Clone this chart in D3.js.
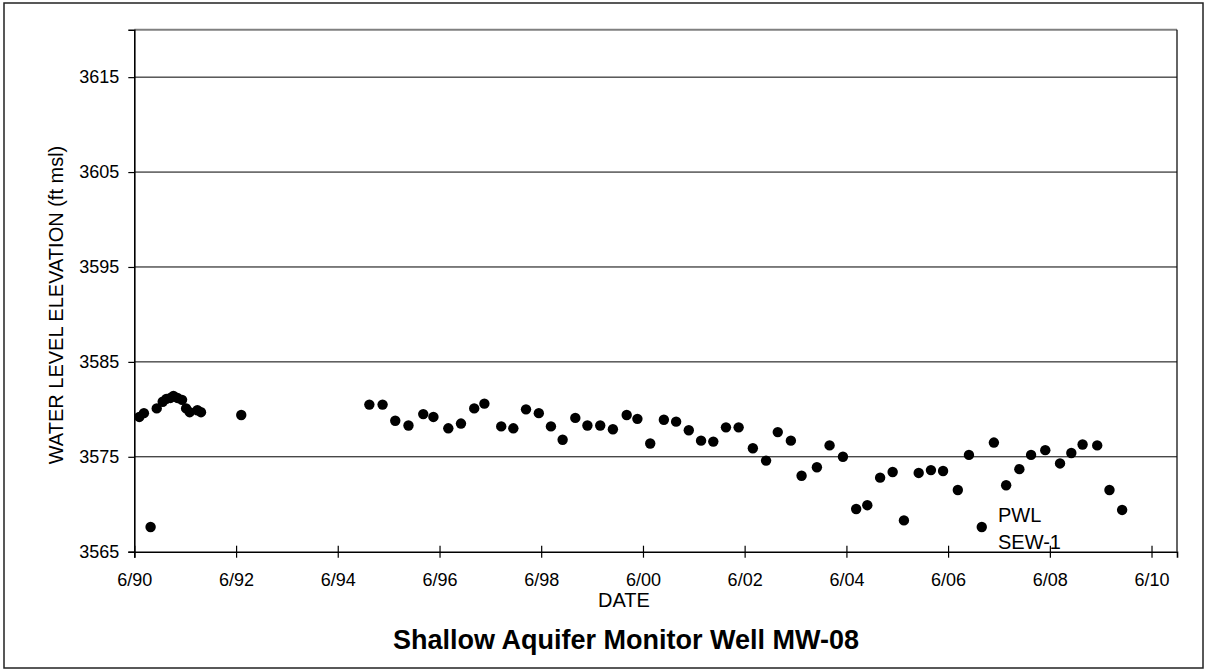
<!DOCTYPE html>
<html>
<head>
<meta charset="utf-8">
<script src="https://cdn.jsdelivr.net/npm/d3@7"></script>
<style>
  html, body { margin: 0; padding: 0; background: #fff; }
  svg { display: block; font-family: Arial, "Liberation Sans", sans-serif; }
</style>
</head>
<body>
<svg id="chart" width="1206" height="671"></svg>
<script>
// ---- data ----
const sampleDates = [
  "1990-07-07","1990-08-09","1990-09-26","1990-11-09","1990-12-22","1991-01-17","1991-02-15",
  "1991-03-09","1991-04-07","1991-05-10","1991-06-08","1991-07-04","1991-08-28","1991-09-23",
  "1992-07-08",
  "1995-01-14","1995-04-19","1995-07-19","1995-10-22","1996-02-05","1996-04-18","1996-08-03",
  "1996-11-02","1997-02-05","1997-04-19","1997-08-18","1997-11-13","1998-02-12","1998-05-15",
  "1998-08-10","1998-11-02","1999-02-01","1999-04-29","1999-07-30","1999-10-29","2000-02-05",
  "2000-04-22","2000-07-23","2000-10-29","2001-01-25","2001-04-26","2001-07-23","2001-10-19",
  "2002-01-18","2002-04-19","2002-07-30","2002-11-02","2003-01-25","2003-04-29","2003-07-15",
  "2003-11-02","2004-02-01","2004-05-07","2004-08-10","2004-10-29","2005-01-29","2005-04-29",
  "2005-07-19","2005-11-02","2006-01-29","2006-04-26","2006-08-10","2006-10-29","2007-01-29",
  "2007-04-26","2007-07-23","2007-10-26","2008-01-18","2008-04-29","2008-08-13","2008-11-02",
  "2009-01-22","2009-05-07","2009-08-03","2009-11-02"
];
const waterLevels = [
  3579.2, 3579.6, 3567.6, 3580.1, 3580.8, 3581.1, 3581.2,
  3581.4, 3581.2, 3581.0, 3580.1, 3579.7, 3579.9, 3579.7,
  3579.4,
  3580.5, 3580.5, 3578.8, 3578.3, 3579.5, 3579.2, 3578.0,
  3578.5, 3580.1, 3580.6, 3578.2, 3578.0, 3580.0, 3579.6,
  3578.2, 3576.8, 3579.1, 3578.3, 3578.3, 3577.9, 3579.4,
  3579.0, 3576.4, 3578.9, 3578.7, 3577.8, 3576.7, 3576.6,
  3578.1, 3578.1, 3575.9, 3574.6, 3577.6, 3576.7, 3573.0,
  3573.9, 3576.2, 3575.0, 3569.5, 3569.9, 3572.8, 3573.4,
  3568.3, 3573.3, 3573.6, 3573.5, 3571.5, 3575.2, 3567.6,
  3576.5, 3572.0, 3573.7, 3575.2, 3575.7, 3574.3, 3575.4,
  3576.3, 3576.2, 3571.5, 3569.4
];
const xTickDates = ["1990-06-01","1992-06-01","1994-06-01","1996-06-01","1998-06-01","2000-06-01",
                    "2002-06-01","2004-06-01","2006-06-01","2008-06-01","2010-06-01"];
const xTickLabels = ["6/90","6/92","6/94","6/96","6/98","6/00","6/02","6/04","6/06","6/08","6/10"];
const yTicks = [3565, 3575, 3585, 3595, 3605, 3615];
const xDomain = ["1990-06-01", "2010-12-01"];
const yDomain = [3565, 3620];
const annotationLines = ["PWL", "SEW-1"];
const chartTitle = "Shallow Aquifer Monitor Well MW-08";
const xTitle = "DATE";
const yTitle = "WATER LEVEL ELEVATION (ft msl)";

(function () {
// ---- layout ----
const parse = d3.timeParse("%Y-%m-%d");
const svg = d3.select("#chart");
const pL = 134.3, pR = 1177, pT = 29.7, pB = 551.7;

const x = d3.scaleTime().domain(xDomain.map(parse)).range([pL, pR]);
const y = d3.scaleLinear().domain(yDomain).range([pB, pT]);

// outer frame
svg.append("rect").attr("x", 4).attr("y", 3).attr("width", 1199).attr("height", 665)
  .attr("fill", "none").attr("stroke", "#222").attr("stroke-width", 1.5);

// gridlines
svg.append("g").selectAll("line").data(yTicks.filter(v => v !== yDomain[0])).join("line")
  .attr("x1", pL).attr("x2", pR)
  .attr("y1", d => y(d)).attr("y2", d => y(d))
  .attr("stroke", "#000").attr("stroke-width", 1);

// plot area border top (gray) and right (black)
svg.append("line").attr("x1", pL).attr("x2", pR).attr("y1", pT).attr("y2", pT)
  .attr("stroke", "#808080").attr("stroke-width", 2);
svg.append("line").attr("x1", pR).attr("x2", pR).attr("y1", pT).attr("y2", pB)
  .attr("stroke", "#111").attr("stroke-width", 1.3);

// y axis
const yAxis = svg.append("g").attr("transform", `translate(${pL},0)`)
  .call(d3.axisLeft(y).tickValues(yTicks).tickSize(6).tickPadding(9).tickFormat(d3.format("d")));
yAxis.select(".domain").attr("stroke", "#000").attr("stroke-width", 1.6);
yAxis.selectAll(".tick line").attr("stroke", "#000").attr("stroke-width", 1.2);
yAxis.selectAll("text").attr("font-size", 18).attr("fill", "#000")
  .attr("font-family", "Arial, 'Liberation Sans', sans-serif");

// x axis
const xAxis = svg.append("g").attr("transform", `translate(0,${pB})`)
  .call(d3.axisBottom(x).tickValues(xTickDates.map(parse)).tickSize(6).tickPadding(16)
        .tickFormat((d, i) => xTickLabels[i]));
xAxis.select(".domain").attr("stroke", "#000").attr("stroke-width", 1.6);
xAxis.selectAll(".tick line").attr("y1", -6).attr("y2", 6).attr("stroke", "#000").attr("stroke-width", 1.2);
xAxis.selectAll("text").attr("font-size", 18).attr("fill", "#000")
  .attr("font-family", "Arial, 'Liberation Sans', sans-serif");

// points
svg.append("g").selectAll("circle").data(sampleDates.map((d, i) => ({ d: parse(d), v: waterLevels[i] })))
  .join("circle")
  .attr("cx", p => x(p.d)).attr("cy", p => y(p.v)).attr("r", 5.2).attr("fill", "#000");

// annotation
const ann = svg.append("text").attr("x", 998).attr("y", 522).attr("font-size", 20).attr("fill", "#000");
annotationLines.forEach((t, i) => ann.append("tspan").attr("x", 998).attr("dy", i === 0 ? 0 : 26.6).text(t));

// axis titles
svg.append("text").attr("x", 624).attr("y", 606.5).attr("text-anchor", "middle")
  .attr("font-size", 20).attr("fill", "#000").text(xTitle);
svg.append("text").attr("transform", "translate(63,305) rotate(-90)").attr("text-anchor", "middle")
  .attr("font-size", 20).attr("fill", "#000").text(yTitle);
svg.append("text").attr("x", 626).attr("y", 649).attr("text-anchor", "middle")
  .attr("font-size", 27).attr("font-weight", "bold").attr("fill", "#000").text(chartTitle);
})();
</script>
</body>
</html>
